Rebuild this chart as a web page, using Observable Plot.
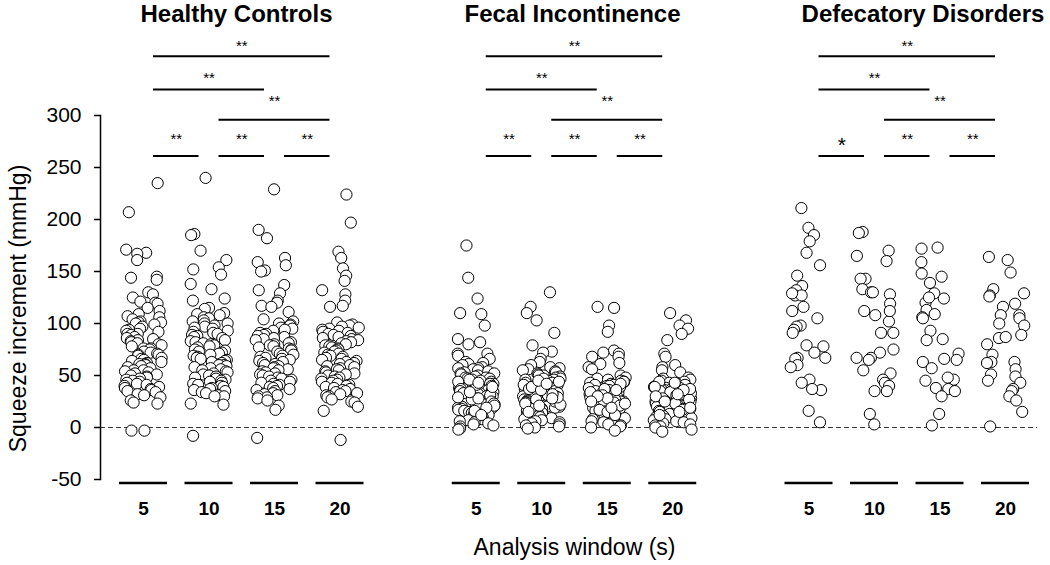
<!DOCTYPE html>
<html><head><meta charset="utf-8">
<script src="https://cdn.jsdelivr.net/npm/d3@7"></script>
<script src="https://cdn.jsdelivr.net/npm/@observablehq/plot@0.6"></script>
<style>html,body{margin:0;padding:0;background:#fff;} #chart{width:1050px;height:565px;}</style>
</head><body><div id="chart"></div>
<script>
// ---------- data ----------
const groups = ["Healthy Controls", "Fecal Incontinence", "Defecatory Disorders"];
const windows = [5, 10, 15, 20];
const yTicks = [-50, 0, 50, 100, 150, 200, 250, 300];
const yLabel = "Squeeze increment (mmHg)";
const xLabel = "Analysis window (s)";

const hc5 = [235, 207, 171, 168, 167, 161, 145, 144, 142, 130, 128, 125, 121, 120, 119, 115, 112,
  109, 107, 106, 104, 102, 101, 101, 100, 99, 97, 95, 94, 93, 92, 90, 90,
  89, 87, 86, 85, 84, 83, 82, 81, 80, 79, 78, 76, 76, 75, 73, 72, 71, 70, 70,
  69, 67, 66, 65, 64, 63, 62, 61, 61, 60, 59, 58, 57, 55, 55, 54, 53, 52, 51, 50,
  49, 48, 47, 46, 45, 44, 43, 42, 41, 40, 39, 38, 37, 36, 35, 34, 32, 31,
  29, 26, 24, 23, -3, -3];
const hc10 = [240, 186, 185, 170, 161, 154, 152, 147, 138, 133, 124, 122, 115, 114, 110, 109, 108,
  106, 105, 103, 102, 100, 100, 98, 97, 96, 95, 93, 92, 91, 90,
  89, 88, 87, 86, 84, 83, 82, 81, 80, 79, 78, 77, 75, 74, 73, 72, 71, 70,
  69, 68, 67, 66, 65, 64, 63, 62, 60, 60, 59, 58, 57, 56, 55, 54, 53, 52, 51, 50,
  49, 48, 47, 46, 45, 44, 43, 42, 41, 40, 39, 38, 37, 36, 35, 34, 33, 31,
  30, 30, 23, 22, -8];
const hc15 = [229, 190, 182, 163, 159, 156, 151, 150, 137, 132, 129, 122, 120, 117, 116, 111,
  104, 102, 100, 99, 98, 96, 95, 94, 93, 91, 90, 89, 88, 87, 86, 85, 84, 82, 81, 80,
  79, 78, 77, 76, 75, 74, 73, 71, 70, 69, 68, 67, 66, 65, 64, 63, 62, 61, 60,
  59, 58, 57, 56, 55, 54, 53, 52, 51, 50, 49, 48, 47, 46, 45, 44, 43, 42, 41, 40,
  39, 38, 37, 36, 35, 33, 32, 31, 30, 29, 28, 26, 21, 17, -10];
const hc20 = [224, 197, 169, 163, 153, 146, 141, 132, 128, 122, 117, 116,
  101, 99, 98, 97, 96, 95, 94, 93, 92, 91, 90, 89, 88, 87, 86, 85, 84, 83, 82, 81, 80,
  79, 78, 77, 76, 75, 74, 73, 72, 71, 70, 69, 68, 67, 66, 65, 64, 63, 62, 61, 60,
  59, 58, 57, 56, 55, 54, 53, 52, 51, 50, 49, 48, 47, 46, 45, 44, 43, 42, 41, 40,
  39, 38, 37, 36, 35, 34, 33, 32, 31, 30, 29, 27, 25, 24, 20, 16, -12];

const fi5 = [175, 144, 124, 110, 109, 98, 85, 82, 80, 71, 71, 69, 66, 63,
  62, 61, 60, 58, 57, 57, 56, 55, 54, 53, 52, 52, 51, 50,
  49, 48, 48, 47, 46, 45, 45, 44, 43, 42, 42, 41, 40, 40,
  39, 38, 38, 37, 36, 36, 35, 34, 34, 33, 32, 32, 31, 30, 30,
  29, 28, 28, 27, 26, 26, 25, 24, 24, 23, 22, 22, 21, 20, 20,
  19, 18, 18, 17, 16, 15, 14, 13, 12, 11, 10, 9, 8, 7, 6, 5, 4, 3, 2, 1, -1, -2,
  47, 44, 41, 37, 35, 33, 31, 29, 27, 25, 23, 21, 46, 39, 28, 19, 16, 12, 43, 34];
const fi10 = [130, 116, 110, 103, 91, 79, 73, 72, 66, 63,
  60, 58, 57, 56, 55, 54, 53, 52, 51, 50, 50,
  49, 48, 47, 46, 46, 45, 44, 43, 43, 42, 41, 40, 40,
  39, 38, 38, 37, 36, 35, 35, 34, 33, 33, 32, 31, 30, 30,
  29, 28, 28, 27, 26, 26, 25, 24, 24, 23, 22, 21, 20, 20,
  19, 18, 17, 16, 15, 14, 13, 12, 11, 10, 9, 8, 7, 6, 5, 4, 3, 2, 1, 0, -1,
  47, 44, 41, 37, 34, 31, 27, 25, 22, 18, 39, 36, 29, 23, 45, 32, 15, 42, 28, 21];
const fi15 = [116, 115, 98, 92, 74, 72, 71, 68, 68, 62, 61, 58, 56,
  50, 48, 47, 46, 45, 44, 43, 42, 41, 40, 40,
  39, 38, 37, 36, 36, 35, 34, 33, 32, 32, 31, 30, 30,
  29, 28, 28, 27, 26, 25, 25, 24, 23, 22, 22, 21, 20, 20,
  19, 18, 17, 16, 15, 14, 13, 12, 11, 10, 9, 8, 7, 6, 5, 4, 3, 2, 1, 0, -3,
  44, 41, 38, 35, 33, 29, 27, 24, 21, 18, 37, 34, 31, 26, 23, 39, 28, 17, 15, 12, 42, 30, 19, 25, 36];
const fi20 = [110, 103, 98, 95, 90, 84, 71, 68, 60, 58, 55, 53,
  48, 47, 46, 45, 44, 43, 42, 41, 40, 40,
  39, 38, 37, 36, 36, 35, 34, 33, 32, 32, 31, 30, 30,
  29, 28, 28, 27, 26, 25, 25, 24, 23, 22, 22, 21, 20, 20,
  19, 18, 17, 16, 15, 14, 13, 12, 11, 10, 9, 8, 7, 6, 5, 4, 3, 2, 1, 0, -2, -4,
  44, 41, 38, 35, 33, 29, 27, 24, 21, 18, 37, 34, 31, 26, 23, 39, 28, 17, 15, 12, 30, 19, 25, 36, 43, 32];

const dd5 = [211, 192, 185, 179, 168, 156, 146, 136, 132, 127, 127, 129, 116, 112, 105, 98, 97, 94, 91,
  78, 79, 72, 67, 67, 66, 60, 58, 46, 43, 36, 37, 16, 5];
const dd10 = [188, 187, 170, 165, 160, 143, 143, 133, 130, 128, 130, 119, 108, 102, 112, 112, 91, 91,
  75, 72, 67, 65, 67, 55, 52, 46, 43, 40, 35, 35, 13, 3];
const dd15 = [173, 172, 159, 148, 145, 139, 129, 124, 120, 113, 125, 106, 109, 93, 105, 85, 84,
  71, 65, 66, 63, 57, 46, 45, 48, 38, 37, 35, 30, 13, 2];
const dd20 = [161, 164, 149, 133, 129, 127, 126, 116, 119, 108, 108, 105, 100, 98, 86, 80, 87, 89,
  70, 63, 63, 62, 56, 51, 49, 43, 45, 37, 35, 30, 26, 15, 1];

const seriesByGroup = [[hc5, hc10, hc15, hc20], [fi5, fi10, fi15, fi20], [dd5, dd10, dd15, dd20]];

// significance comparisons (same pairs in each group)
const bracketFrom = [5, 10, 15, 10, 5, 5];
const bracketTo = [10, 15, 20, 20, 15, 20];
const hcStars = ["**", "**", "**", "**", "**", "**"];
const fiStars = ["**", "**", "**", "**", "**", "**"];
const ddStars = ["*", "**", "**", "**", "**", "**"];
const starsByGroup = [hcStars, fiStars, ddStars];

// ---------- layout ----------
const G = 5.08;                                 // spacing between groups, in column units
const bracketLevel = [261, 261, 261, 296, 325, 357];
const bracketTextLevel = [277, 277, 277, 314, 336, 367];
const titleShift = [-0.08, -0.03, 0.24];
const pos = (gi, w) => gi * G + windows.indexOf(w);

function mulberry32(a) {
  return function() {
    a |= 0; a = a + 0x6D2B79F5 | 0;
    let t = Math.imul(a ^ a >>> 15, 1 | a);
    t = t + Math.imul(t ^ t >>> 7, 61 | t) ^ t;
    return ((t ^ t >>> 14) >>> 0) / 4294967296;
  };
}
const rand = mulberry32(20240611);

const points = [];
seriesByGroup.forEach((cols, gi) => cols.forEach((arr, wi) => arr.forEach(v => {
  points.push({group: groups[gi], w: windows[wi], v, x: pos(gi, windows[wi]) + (rand() * 2 - 1) * 0.29});
})));
const cols = groups.flatMap((g, gi) => windows.map(w => ({group: g, w, x: pos(gi, w)})));
const brackets = groups.flatMap((g, gi) => bracketFrom.map((a, k) => ({
  x1: pos(gi, a), x2: pos(gi, bracketTo[k]), y: bracketLevel[k], ty: bracketTextLevel[k], label: starsByGroup[gi][k]
})));
const titles = groups.map((g, gi) => ({g, x: gi * G + 1.5 + titleShift[gi]}));

const font = "'Liberation Sans', Arial, Helvetica, sans-serif";

const chart = Plot.plot({
  width: 1050,
  height: 565,
  marginTop: 115,
  marginBottom: 86,
  marginLeft: 100,
  marginRight: 13,
  style: {fontFamily: font, background: "white", overflow: "visible"},
  x: {type: "linear", domain: [0, 2 * G + 3], range: [143, 1005], axis: null},
  y: {domain: [yTicks[0], yTicks[yTicks.length - 1]]},
  marks: [
    Plot.ruleY([0], {stroke: "#333", strokeDasharray: "5,3", strokeWidth: 1}),
    Plot.dot(points, {x: "x", y: "v", r: 5.6, fill: "white", stroke: "black", strokeWidth: 1}),
    Plot.ruleY(cols, {x1: "x", x2: "x", y: () => yTicks[0], dy: 3.5, insetLeft: -24, insetRight: -24, stroke: "black", strokeWidth: 2.5}),
    Plot.ruleY(brackets, {x1: "x1", x2: "x2", y: "y", insetLeft: 10, insetRight: 10, stroke: "black", strokeWidth: 2}),
    Plot.text(brackets.filter(d => d.label === "**"), {x: d => (d.x1 + d.x2) / 2, y: "ty", text: "label", fontSize: 15}),
    Plot.text(brackets.filter(d => d.label === "*"), {x: d => (d.x1 + d.x2) / 2, y: "ty", text: "label", fontSize: 21, dy: 6}),
    Plot.axisY({ticks: yTicks, tickFormat: d => String(d), tickSize: 6, tickPadding: 13, fontSize: 21, strokeWidth: 1.5, label: null}),
    Plot.frame({anchor: "left", strokeWidth: 1.5}),
    Plot.text(titles, {x: "x", text: "g", frameAnchor: "top", lineAnchor: "middle", textAnchor: "middle", dy: -101, fontSize: 24, fontWeight: "bold"}),
    Plot.text(cols, {x: "x", text: d => String(d.w), frameAnchor: "bottom", lineAnchor: "middle", textAnchor: "middle", dy: 29, fontSize: 19, fontWeight: "bold"}),
    Plot.text([xLabel], {x: () => G + 1.5, text: d => d, frameAnchor: "bottom", lineAnchor: "middle", textAnchor: "middle", dy: 68, fontSize: 23}),
    Plot.text([yLabel], {text: d => d, frameAnchor: "left", lineAnchor: "middle", textAnchor: "middle", rotate: -90, dx: -82, dy: 11, fontSize: 23})
  ]
});
document.getElementById("chart").appendChild(chart);
</script>
</body></html>
